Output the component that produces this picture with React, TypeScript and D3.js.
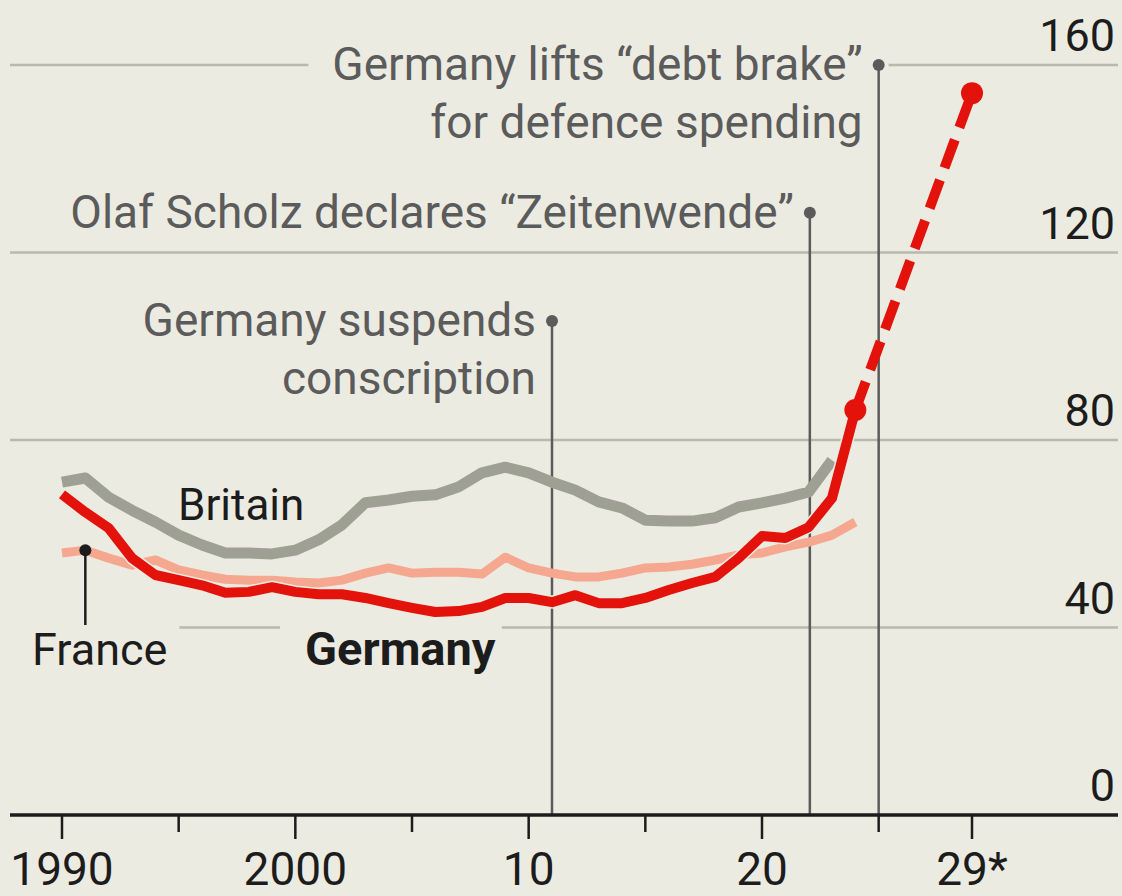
import { useEffect, useRef } from "react";
import * as d3 from "d3";

const years = [
  1990, 1991, 1992, 1993, 1994, 1995, 1996, 1997, 1998, 1999, 2000, 2001,
  2002, 2003, 2004, 2005, 2006, 2007, 2008, 2009, 2010, 2011, 2012, 2013,
  2014, 2015, 2016, 2017, 2018, 2019, 2020, 2021, 2022, 2023, 2024,
];

const germany = [
  68.4, 64.6, 61.2, 54.8, 51.2, 50.1, 49.0, 47.4, 47.6, 48.6, 47.6, 47.1,
  47.1, 46.3, 45.2, 44.2, 43.3, 43.5, 44.4, 46.3, 46.3, 45.4, 46.9, 45.2,
  45.2, 46.3, 48.0, 49.5, 50.8, 54.8, 59.5, 59.1, 61.4, 67.6, 86.4,
];

// Britain stops at 2023
const britain = [
  71.0, 71.9, 67.8, 65.0, 62.5, 59.7, 57.6, 55.9, 55.9, 55.7, 56.5, 58.7,
  61.9, 66.6, 67.2, 68.0, 68.3, 70.0, 73.0, 74.2, 73.0, 71.0, 69.3, 66.8,
  65.5, 62.9, 62.7, 62.7, 63.4, 65.7, 66.6, 67.6, 68.9, 75.7,
];

const france = [
  55.9, 56.5, 54.8, 53.3, 54.4, 52.3, 51.2, 50.3, 50.1, 50.1, 49.7, 49.5,
  50.1, 51.6, 52.7, 51.6, 51.8, 51.8, 51.4, 55.0, 52.7, 51.6, 50.8, 50.8,
  51.6, 52.7, 52.9, 53.5, 54.4, 55.5, 55.9, 57.2, 58.2, 59.7, 62.5,
];

const forecastYears = [2024, 2029];
const forecastGermany = [86.4, 154];

const yTicks = [0, 40, 80, 120, 160];
const majorTicks = [1990, 2000, 2010, 2020, 2029];
const majorLabels = ["1990", "2000", "10", "20", "29*"];
const minorTicks = [1995, 2005, 2015, 2025];

const events = [
  { year: 2011, value: 105.4, lines: ["Germany suspends", "conscription"] },
  { year: 2022.05, value: 128.5, lines: ["Olaf Scholz declares \u201cZeitenwende\u201d"] },
  { year: 2025, value: 160, lines: ["Germany lifts \u201cdebt brake\u201d", "for defence spending"] },
];

const BG = "#ecebe1";
const RED = "#e3120b";
const GREY = "#9fa094";
const SALMON = "#f5a78f";
const INK = "#1c1c1c";
const NOTE = "#5b5b5b";
const FONT = "Roboto, 'Liberation Sans', Arial, sans-serif";

export default function App() {
  const svgRef = useRef<SVGSVGElement>(null);

  useEffect(() => {
    const svg = svgRef.current;
    if (!svg) return;
    document.body.style.margin = "0";
    const sel = d3.select(svg);
    sel.selectAll("*").remove();

    const W = 1122;
    const H = 896;
    const left = 10;
    const right = 1118;

    const x = d3.scaleLinear().domain([1990, 2029]).range([62, 972]);
    const y = d3.scaleLinear().domain([0, 160]).range([815, 65]);

    sel.append("rect").attr("width", W).attr("height", H).attr("fill", BG);

    // gridlines
    sel
      .append("g")
      .selectAll("line")
      .data(yTicks.filter((t) => t > 0))
      .join("line")
      .attr("x1", left)
      .attr("x2", right)
      .attr("y1", (d) => y(d))
      .attr("y2", (d) => y(d))
      .attr("stroke", "#b9b8ae")
      .attr("stroke-width", 2.5);

    // y labels
    sel
      .append("g")
      .selectAll("text")
      .data(yTicks)
      .join("text")
      .attr("x", 1115)
      .attr("y", (d) => y(d) - 14)
      .attr("text-anchor", "end")
      .attr("font-family", FONT)
      .attr("font-size", 45)
      .attr("fill", INK)
      .text((d) => String(d));

    const maskLayer = sel.append("g");
    const annoLines = sel.append("g");
    const seriesLayer = sel.append("g");
    const textLayer = sel.append("g");

    const addMask = (t: d3.Selection<SVGTextElement, unknown, null, undefined>, padL: number, padR: number) => {
      const b = (t.node() as SVGTextElement).getBBox();
      maskLayer
        .append("rect")
        .attr("x", b.x - padL)
        .attr("y", b.y)
        .attr("width", b.width + padL + padR)
        .attr("height", b.height)
        .attr("fill", BG);
    };

    // event annotations
    events.forEach((ev) => {
      const ex = x(ev.year);
      const ey = y(ev.value);
      annoLines
        .append("line")
        .attr("x1", ex)
        .attr("x2", ex)
        .attr("y1", ey)
        .attr("y2", y(0))
        .attr("stroke", NOTE)
        .attr("stroke-width", 2.5);
      annoLines.append("circle").attr("cx", ex).attr("cy", ey).attr("r", 6).attr("fill", NOTE);
      ev.lines.forEach((ln, i) => {
        const t = textLayer
          .append("text")
          .attr("x", ex - 16)
          .attr("y", ey + 15 + i * 58)
          .attr("text-anchor", "end")
          .attr("font-family", FONT)
          .attr("font-size", 46)
          .attr("fill", NOTE)
          .text(ln);
        if (i === 0) addMask(t, 24, 26);
      });
    });

    // series
    const line = d3
      .line<number>()
      .x((_, i) => x(years[i]))
      .y((d) => y(d));

    const drawPath = (d: string | null, color: string, w: number) =>
      seriesLayer
        .append("path")
        .attr("d", d)
        .attr("fill", "none")
        .attr("stroke", color)
        .attr("stroke-width", w)
        .attr("stroke-linejoin", "round");

    drawPath(line(france), SALMON, 9);
    drawPath(line(britain), GREY, 11);
    drawPath(line(germany), BG, 13);
    drawPath(line(germany), RED, 10);

    const fLine = d3
      .line<number>()
      .x((_, i) => x(forecastYears[i]))
      .y((d) => y(d));

    drawPath(fLine(forecastGermany), RED, 10).attr("stroke-dasharray", "30 13");

    seriesLayer
      .selectAll("circle.end")
      .data(forecastGermany)
      .join("circle")
      .attr("class", "end")
      .attr("cx", (_, i) => x(forecastYears[i]))
      .attr("cy", (d) => y(d))
      .attr("r", 11)
      .attr("fill", RED);

    // series labels
    textLayer
      .append("text")
      .attr("x", 178)
      .attr("y", 520)
      .attr("font-family", FONT)
      .attr("font-size", 44)
      .attr("fill", INK)
      .text("Britain");

    const fr = textLayer
      .append("text")
      .attr("x", 32)
      .attr("y", 665)
      .attr("font-family", FONT)
      .attr("font-size", 45)
      .attr("fill", INK)
      .text("France");
    addMask(fr, 22, 12);

    const de = textLayer
      .append("text")
      .attr("x", 305)
      .attr("y", 665)
      .attr("font-family", FONT)
      .attr("font-size", 47)
      .attr("font-weight", "bold")
      .attr("fill", INK)
      .text("Germany");
    addMask(de, 25, 6);

    // France pointer
    textLayer
      .append("line")
      .attr("x1", x(1991))
      .attr("x2", x(1991))
      .attr("y1", y(france[1]))
      .attr("y2", 625)
      .attr("stroke", INK)
      .attr("stroke-width", 2.5);
    textLayer
      .append("circle")
      .attr("cx", x(1991))
      .attr("cy", y(france[1]))
      .attr("r", 6)
      .attr("fill", INK);

    // x axis
    const axis = sel.append("g");
    axis
      .append("line")
      .attr("x1", left)
      .attr("x2", right)
      .attr("y1", y(0))
      .attr("y2", y(0))
      .attr("stroke", INK)
      .attr("stroke-width", 3.5);
    axis
      .selectAll("line.major")
      .data(majorTicks)
      .join("line")
      .attr("class", "major")
      .attr("x1", (d) => x(d))
      .attr("x2", (d) => x(d))
      .attr("y1", y(0))
      .attr("y2", y(0) + 24)
      .attr("stroke", INK)
      .attr("stroke-width", 2.5);
    axis
      .selectAll("line.minor")
      .data(minorTicks)
      .join("line")
      .attr("class", "minor")
      .attr("x1", (d) => x(d))
      .attr("x2", (d) => x(d))
      .attr("y1", y(0))
      .attr("y2", y(0) + 17)
      .attr("stroke", INK)
      .attr("stroke-width", 2.5);
    axis
      .selectAll("text")
      .data(majorTicks)
      .join("text")
      .attr("x", (d) => x(d))
      .attr("y", 885)
      .attr("text-anchor", "middle")
      .attr("font-family", FONT)
      .attr("font-size", 46)
      .attr("fill", INK)
      .text((_, i) => majorLabels[i]);
  }, []);

  return <svg ref={svgRef} width={1122} height={896} style={{ display: "block" }} />;
}
